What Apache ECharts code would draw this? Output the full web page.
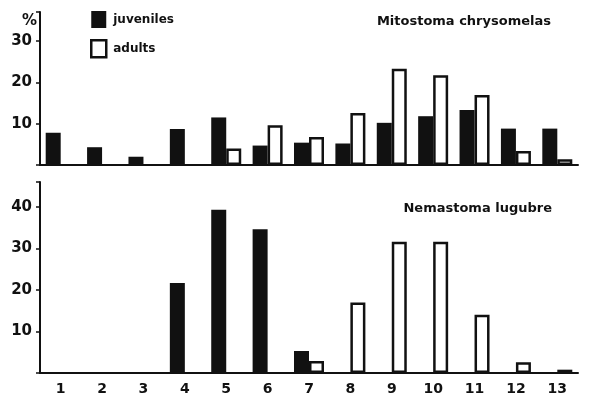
<!DOCTYPE html>
<html><head><meta charset="utf-8">
<script src="https://cdn.jsdelivr.net/npm/echarts@6/dist/echarts.min.js"></script>
<style>html,body{margin:0;padding:0;background:#fff}#c{width:590px;height:396px}</style>
</head><body><div id="c"></div>
<script>
var categories = ['1','2','3','4','5','6','7','8','9','10','11','12','13'];
var mitoJuveniles = [7.8, 4.3, 2.0, 8.7, 11.5, 4.7, 5.4, 5.2, 10.2, 11.8, 13.3, 8.8, 8.8];
var mitoAdults    = [null, null, null, null, 4.0, 9.6, 6.8, 12.6, 23.3, 21.7, 16.9, 3.4, 1.4];
var nemaJuveniles = [null, null, null, 21.7, 39.3, 34.6, 5.3, null, null, null, null, null, null];
var nemaAdults    = [null, null, null, null, null, null, 2.9, 17.0, 31.6, 31.6, 14.0, 2.6, 0.8];
var topTicks = [10, 20, 30];
var bottomTicks = [10, 20, 30, 40];

var INK = '#111';
var FONT = 'DejaVu Sans';
var chart = echarts.init(document.getElementById('c'), null, {renderer: 'canvas'});

function xAxis(gridIndex, showLabels) {
  return {
    type: 'category', gridIndex: gridIndex, data: categories, boundaryGap: true,
    axisLine: {lineStyle: {color: INK, width: 2}},
    axisTick: {alignWithLabel: true, length: 5, lineStyle: {color: INK, width: 1.5}},
    axisLabel: {show: showLabels, margin: 9, color: INK, fontFamily: FONT, fontWeight: 'bold', fontSize: 14},
    splitLine: {show: false}
  };
}
function yAxis(gridIndex, max, ticks) {
  return {
    type: 'value', gridIndex: gridIndex, min: 0, max: max, interval: 10,
    axisLine: {show: true, lineStyle: {color: INK, width: 2}},
    axisTick: {show: true, length: 4, lineStyle: {color: INK, width: 1.5}},
    axisLabel: {margin: 8, color: INK, fontFamily: FONT, fontWeight: 'bold', fontSize: 15,
      formatter: function (v) { return ticks.indexOf(v) >= 0 ? String(v) : ''; }},
    splitLine: {show: false}
  };
}
var juvStyle = {color: INK};
var aduStyle = {color: '#fff', borderColor: INK, borderWidth: 2.5};

chart.setOption({
  backgroundColor: '#fff',
  animation: false,
  title: [
    {text: 'Mitostoma chrysomelas', right: 34, top: 10, textStyle: {color: INK, fontFamily: FONT, fontWeight: 'bold', fontSize: 13}},
    {text: 'Nemastoma lugubre', right: 33, top: 197, textStyle: {color: INK, fontFamily: FONT, fontWeight: 'bold', fontSize: 13}},
    {text: '%', left: 17, top: 9, textStyle: {color: INK, fontFamily: FONT, fontWeight: 'bold', fontSize: 15}}
  ],
  legend: {
    orient: 'vertical', left: 90, top: 11, padding: 0, itemWidth: 15, itemHeight: 17, itemGap: 11,
    textStyle: {color: INK, fontFamily: FONT, fontWeight: 'bold', fontSize: 12, padding: [0, 0, 0, 2]},
    data: [
      {name: 'juveniles', icon: 'rect', itemStyle: {color: INK, borderWidth: 0}},
      {name: 'adults', icon: 'rect', itemStyle: {color: '#fff', borderColor: INK, borderWidth: 2.5}}
    ]
  },
  grid: [
    {left: 40, width: 538, top: 12, height: 153},
    {left: 40, width: 538, top: 182, height: 191}
  ],
  xAxis: [xAxis(0, false), xAxis(1, true)],
  yAxis: [yAxis(0, 37, topTicks), yAxis(1, 46, bottomTicks)],
  series: [
    {name: 'juveniles', type: 'bar', xAxisIndex: 0, yAxisIndex: 0, data: mitoJuveniles, barWidth: 15, barGap: '0%', itemStyle: juvStyle},
    {name: 'adults', type: 'bar', xAxisIndex: 0, yAxisIndex: 0, data: mitoAdults, barWidth: 15, barGap: '0%', itemStyle: aduStyle},
    {name: 'juveniles', type: 'bar', xAxisIndex: 1, yAxisIndex: 1, data: nemaJuveniles, barWidth: 15, barGap: '0%', itemStyle: juvStyle},
    {name: 'adults', type: 'bar', xAxisIndex: 1, yAxisIndex: 1, data: nemaAdults, barWidth: 15, barGap: '0%', itemStyle: aduStyle}
  ]
});
</script></body></html>
